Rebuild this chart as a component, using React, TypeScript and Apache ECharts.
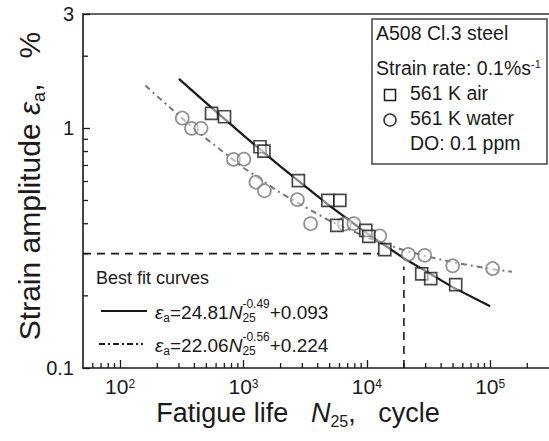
import React, { useEffect, useRef } from 'react';
import * as echarts from 'echarts';

// ---------- data ----------
const airN = [551, 702, 1361, 1466, 2788, 4831, 6043, 5715, 9817, 10380, 13990, 27870, 32970, 52570];
const airStrain = [1.155, 1.118, 0.838, 0.804, 0.605, 0.501, 0.501, 0.394, 0.375, 0.354, 0.312, 0.247, 0.236, 0.223];

const waterN = [319, 379, 453, 830, 1009, 1262, 1479, 2737, 3500, 6575, 7850, 12740, 21680, 29500, 49700, 104700];
const waterStrain = [1.104, 1.0, 1.0, 0.742, 0.744, 0.596, 0.549, 0.504, 0.4, 0.399, 0.4, 0.356, 0.298, 0.295, 0.267, 0.26];

// best fit curves
const airFitN = [300, 500, 1000, 2000, 5000, 10000, 20000, 50000, 100000];
const airFitStrain = [1.609, 1.274, 0.934, 0.692, 0.475, 0.365, 0.287, 0.217, 0.181];
const waterFitN = [160, 300, 500, 1000, 2000, 5000, 10000, 20000, 30000, 50000, 100000, 150000];
const waterFitStrain = [1.51, 1.129, 0.904, 0.685, 0.537, 0.411, 0.351, 0.31, 0.293, 0.276, 0.259, 0.252];

// dashed guide lines
const guideHN = [50, 12500];
const guideHStrain = [0.3, 0.3];
const guideVN = [20000, 20000];
const guideVStrain = [0.1, 0.265];

// axes
const X_MIN = 50;
const X_MAX = 300000;
const Y_MIN = 0.1;
const Y_MAX = 3;
const xLabelExponents = [2, 3, 4, 5];
const yTickLabels = ['0.1', '1', '3'];
const xMinorTicks = [
  60, 70, 80, 90,
  200, 300, 400, 500, 600, 700, 800, 900,
  2000, 3000, 4000, 5000, 6000, 7000, 8000, 9000,
  20000, 30000, 40000, 50000, 60000, 70000, 80000, 90000,
  200000,
];
const yMinorTicks = [0.2, 0.3, 0.4, 0.5, 0.6, 0.7, 0.8, 0.9, 2];

const FONT = '"Liberation Sans", Arial, Helvetica, sans-serif';
const INK = '#1a1a1a';
const GRAY = '#777777';

type Piece = { t: string; s: number; it?: boolean; dy?: number; stack?: boolean };

let ctx: CanvasRenderingContext2D | null = null;
function measure(t: string, s: number, it?: boolean) {
  if (!ctx) ctx = document.createElement('canvas').getContext('2d');
  if (!ctx) return t.length * s * 0.55;
  ctx.font = `${it ? 'italic ' : ''}${s}px ${FONT}`;
  return ctx.measureText(t).width;
}

function buildRun(pieces: Piece[], x0: number, y0: number, fill = INK): any[] {
  const out: any[] = [];
  let x = x0;
  let pending = 0;
  for (const p of pieces) {
    const pw = measure(p.t, p.s, p.it);
    out.push({
      type: 'text',
      x,
      y: y0 + (p.dy || 0),
      silent: true,
      style: {
        text: p.t,
        fontSize: p.s,
        fontFamily: FONT,
        fontStyle: p.it ? 'italic' : 'normal',
        fill,
        align: 'left',
        verticalAlign: 'middle',
        textAlign: 'left',
        textVerticalAlign: 'middle',
      },
    });
    if (p.stack) {
      pending = pw;
      continue;
    }
    x += Math.max(pw, pending);
    pending = 0;
  }
  return out;
}

function richText(x: number, y: number, text: string, rich: any, align: string, extra: any = {}) {
  return {
    type: 'text',
    x,
    y,
    silent: true,
    ...extra,
    style: {
      text,
      rich,
      fontFamily: FONT,
      fill: INK,
      align,
      verticalAlign: 'middle',
      textAlign: align,
      textVerticalAlign: 'middle',
    },
  };
}

function tickSeries(data: number[][], dir: 'up' | 'right') {
  return {
    type: 'custom',
    coordinateSystem: 'cartesian2d',
    silent: true,
    clip: false,
    z: 5,
    data,
    renderItem: (_params: any, api: any) => {
      const p = api.coord([api.value(0), api.value(1)]);
      const len = 5;
      return {
        type: 'line',
        shape:
          dir === 'up'
            ? { x1: p[0], y1: p[1], x2: p[0], y2: p[1] - len }
            : { x1: p[0], y1: p[1], x2: p[0] + len, y2: p[1] },
        style: { stroke: INK, lineWidth: 1.3 },
      };
    },
  };
}

export default function App() {
  const ref = useRef<HTMLDivElement>(null);

  useEffect(() => {
    if (!ref.current) return;
    const chart = echarts.init(ref.current, undefined, { renderer: 'svg' });

    const titleRich = (size: number, sub: number, lh: number, subLh = sub) => ({
      m: { fontSize: size, fontFamily: FONT, color: INK, lineHeight: lh, verticalAlign: 'top' },
      i: { fontSize: size, fontFamily: FONT, color: INK, fontStyle: 'italic', lineHeight: lh, verticalAlign: 'top' },
      sub: { fontSize: sub, fontFamily: FONT, color: INK, lineHeight: subLh, verticalAlign: 'bottom' },
      sup: { fontSize: sub, fontFamily: FONT, color: INK, lineHeight: subLh, verticalAlign: 'top' },
    });

    const eq1: Piece[] = [
      { t: 'ε', s: 19, it: true },
      { t: 'a', s: 12, dy: 6 },
      { t: '=24.81', s: 19 },
      { t: 'N', s: 19, it: true },
      { t: '25', s: 12, dy: 6, stack: true },
      { t: '-0.49', s: 12, dy: -8 },
      { t: '+0.093', s: 19 },
    ];
    const eq2: Piece[] = [
      { t: 'ε', s: 19, it: true },
      { t: 'a', s: 12, dy: 6 },
      { t: '=22.06', s: 19 },
      { t: 'N', s: 19, it: true },
      { t: '25', s: 12, dy: 6, stack: true },
      { t: '-0.56', s: 12, dy: -8 },
      { t: '+0.224', s: 19 },
    ];

    const legendX = 372;
    const legendY = 19;
    const LG = 19.5;

    const graphic: any[] = [
      // axis titles
      richText(298, 414, '{m|Fatigue life   }{i|N}{sub|25}{m|,   cycle}', titleRich(27, 16, 30, 10), 'center'),
      richText(31, 186, '{m|Strain amplitude }{i|ε}{sub|a}{m|,   %}', titleRich(30, 18, 34), 'center', {
        rotation: Math.PI / 2,
      }),
      // info box
      {
        type: 'rect',
        shape: { x: legendX, y: legendY, width: 175, height: 145 },
        style: { fill: '#fff', stroke: '#444', lineWidth: 1.5 },
        z: 20,
        silent: true,
      },
      { ...richText(376, 35, '{m|A508 Cl.3 steel}', titleRich(LG, 11, 24), 'left'), z: 21 },
      { ...richText(376, 70, '{m|Strain rate: 0.1%s}{sup|-1}', titleRich(LG, 11, 24), 'left'), z: 21 },
      {
        type: 'rect',
        shape: { x: 384.5, y: 89.5, width: 11, height: 11 },
        style: { fill: '#fff', stroke: INK, lineWidth: 1.5 },
        z: 21,
        silent: true,
      },
      { ...richText(410, 95, '{m|561 K air}', titleRich(LG, 11, 24), 'left'), z: 21 },
      {
        type: 'circle',
        shape: { cx: 390, cy: 120, r: 6 },
        style: { fill: '#fff', stroke: '#333', lineWidth: 1.5 },
        z: 21,
        silent: true,
      },
      { ...richText(410, 120, '{m|561 K water}', titleRich(LG, 11, 24), 'left'), z: 21 },
      { ...richText(410, 145, '{m|DO: 0.1 ppm}', titleRich(LG, 11, 24), 'left'), z: 21 },
      // best fit legend
      richText(96, 280, '{m|Best fit curves}', titleRich(18, 11, 22), 'left'),
      {
        type: 'line',
        shape: { x1: 101, y1: 311, x2: 147, y2: 311 },
        style: { stroke: INK, lineWidth: 2 },
        silent: true,
      },
      ...buildRun(eq1, 155, 312),
      {
        type: 'line',
        shape: { x1: 99, y1: 344, x2: 143, y2: 344 },
        style: { stroke: INK, lineWidth: 2, lineDash: [6, 3, 2, 3] },
        silent: true,
      },
      ...buildRun(eq2, 155, 345),
    ];

    const option: any = {
      animation: false,
      backgroundColor: '#fff',
      grid: { left: 83, right: 0, top: 14, bottom: 73, containLabel: false },
      xAxis: [
        {
          type: 'log',
          logBase: 10,
          min: X_MIN,
          max: X_MAX,
          axisLine: { show: true, lineStyle: { color: INK, width: 1.6 } },
          axisTick: { show: true, inside: true, length: 8, lineStyle: { color: INK, width: 1.3 } },
          splitLine: { show: false },
          minorTick: { show: false },
          axisLabel: {
            show: true,
            margin: 10,
            color: INK,
            showMinLabel: false,
            showMaxLabel: false,
            formatter: (v: number) => {
              const e = Math.log10(v);
              const r = Math.round(e);
              if (Math.abs(e - r) < 1e-6 && xLabelExponents.includes(r)) return `{b|10}{s|${r}}`;
              return '';
            },
            rich: {
              b: { fontSize: 21, fontFamily: FONT, color: INK, lineHeight: 19, verticalAlign: 'bottom' },
              s: { fontSize: 12, fontFamily: FONT, color: INK, lineHeight: 10, verticalAlign: 'top' },
            },
          },
        },
        {
          type: 'log',
          logBase: 10,
          position: 'top',
          min: X_MIN,
          max: X_MAX,
          axisLine: { show: true, lineStyle: { color: '#333', width: 1.6 } },
          axisTick: { show: false },
          axisLabel: { show: false },
          splitLine: { show: false },
        },
      ],
      yAxis: {
        type: 'log',
        logBase: 10,
        min: Y_MIN,
        max: Y_MAX,
        axisLine: { show: true, lineStyle: { color: INK, width: 1.6 } },
        axisTick: { show: true, inside: true, length: 7, lineStyle: { color: INK, width: 1.3 } },
        splitLine: { show: false },
        axisLabel: {
          margin: 9,
          color: INK,
          fontSize: 20,
          fontFamily: FONT,
          formatter: (v: number) => {
            const s = String(Number(v.toPrecision(3)));
            return yTickLabels.includes(s) ? s : '';
          },
        },
      },
      graphic,
      series: [
        tickSeries(xMinorTicks.map((v) => [v, Y_MIN]), 'up'),
        tickSeries(yMinorTicks.map((v) => [X_MIN, v]), 'right'),
        {
          type: 'line',
          data: guideHN.map((n, i) => [n, guideHStrain[i]]),
          showSymbol: false,
          silent: true,
          lineStyle: { color: INK, width: 1.6, type: [8, 6] },
          z: 2,
        },
        {
          type: 'line',
          data: guideVN.map((n, i) => [n, guideVStrain[i]]),
          showSymbol: false,
          silent: true,
          lineStyle: { color: INK, width: 1.6, type: [8, 6] },
          z: 2,
        },
        {
          name: 'air fit',
          type: 'line',
          data: airFitN.map((n, i) => [n, airFitStrain[i]]),
          showSymbol: false,
          silent: true,
          lineStyle: { color: INK, width: 2.2 },
          z: 3,
        },
        {
          name: 'water fit',
          type: 'line',
          data: waterFitN.map((n, i) => [n, waterFitStrain[i]]),
          showSymbol: false,
          silent: true,
          lineStyle: { color: GRAY, width: 2, type: [6, 4, 2, 4] },
          z: 3,
        },
        {
          name: '561 K water',
          type: 'scatter',
          data: waterN.map((n, i) => [n, waterStrain[i]]),
          symbol: 'circle',
          symbolSize: 13,
          itemStyle: { color: 'rgba(255,255,255,0.6)', borderColor: GRAY, borderWidth: 1.7 },
          z: 4,
        },
        {
          name: '561 K air',
          type: 'scatter',
          data: airN.map((n, i) => [n, airStrain[i]]),
          symbol: 'rect',
          symbolSize: 12,
          itemStyle: { color: 'rgba(255,255,255,0.6)', borderColor: INK, borderWidth: 1.7 },
          z: 4,
        },
      ],
    };

    chart.setOption(option);
    return () => chart.dispose();
  }, []);

  return (
    <div
      ref={ref}
      style={{ position: 'fixed', left: 0, top: 0, width: 549, height: 441, background: '#fff' }}
    />
  );
}
